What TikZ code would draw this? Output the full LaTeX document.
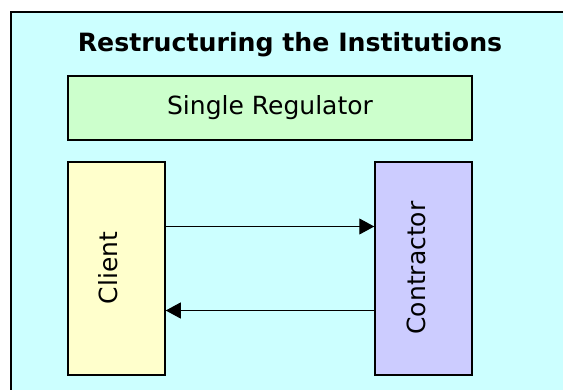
\documentclass[tikz,border=0pt]{standalone}
\usepackage{fontspec}
\setmainfont{DejaVu Sans}
\usetikzlibrary{arrows.meta}

\definecolor{panelcyan}{HTML}{CCFFFF}
\definecolor{regulatorgreen}{HTML}{CCFFCC}
\definecolor{clientyellow}{HTML}{FFFFCC}
\definecolor{contractorblue}{HTML}{CCCCFF}

\begin{document}
\begin{tikzpicture}[x=1pt, y=-1pt,
  box/.style={draw, line width=1.5pt, inner sep=0pt},
  boxtext/.style={font=\fontsize{25}{29}\selectfont, inner sep=0pt},
  flow/.style={line width=1pt, -{Triangle[length=15pt, width=16pt]}}]
\useasboundingbox (0,0) rectangle (563,389);
\fill[white] (0,0) rectangle (563,389);
\draw[line width=1.5pt, fill=panelcyan] (11,12) rectangle (620,440);

\node (title) [anchor=base, inner sep=0pt, font=\bfseries\fontsize{25.2}{29}\selectfont]
  at (290,51) {Restructuring the Institutions};

%%%%%%%%%%%%%%%%%%%%%%%%%%%%%%%%%%%%%%%%

\node (regulator) [box, fill=regulatorgreen, minimum width=404pt, minimum height=64pt] at (270,108) {};
\node (regulatortext) [boxtext, anchor=base] at (270,114.5) {Single Regulator};

\node (client) [box, fill=clientyellow, minimum width=97pt, minimum height=213pt] at (116.5,268.5) {};
\node (clienttext) [boxtext, rotate=90, anchor=base] at (117,268) {Client};

\node (contractor) [box, fill=contractorblue, minimum width=97pt, minimum height=213pt] at (423.5,268.5) {};
\node (contractortext) [boxtext, rotate=90, anchor=base] at (425,268) {Contractor};

\draw [flow] ([yshift=42pt]client.east) -- ([yshift=42pt]contractor.west);
\draw [flow] ([yshift=-42pt]contractor.west) -- ([yshift=-42pt]client.east);

\end{tikzpicture}
\end{document}
